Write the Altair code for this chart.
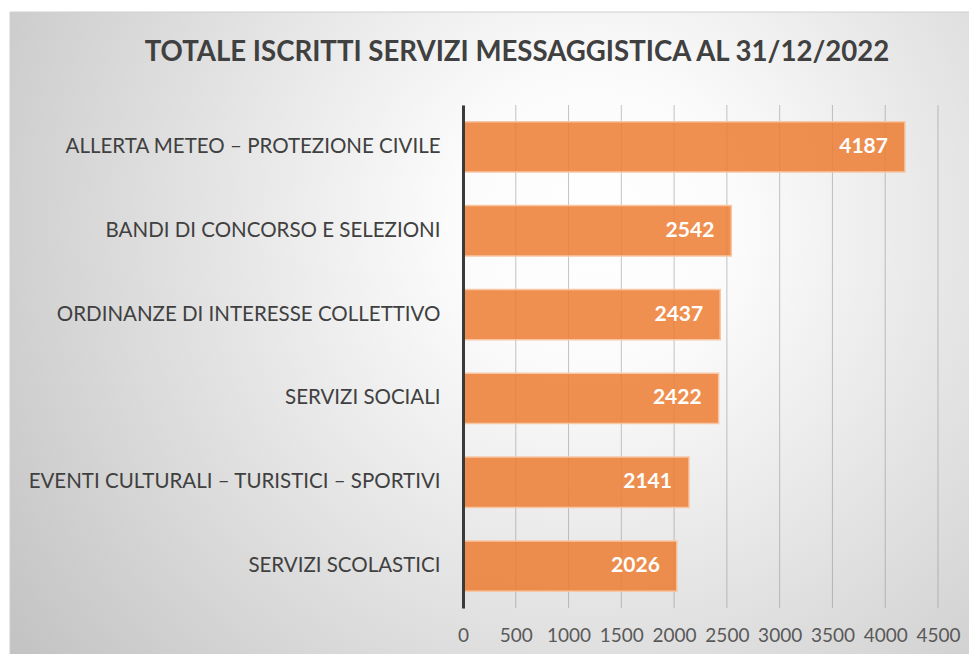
import altair as alt
import pandas as pd

categories = [
    "ALLERTA METEO – PROTEZIONE CIVILE",
    "BANDI DI CONCORSO E SELEZIONI\u00a0",
    "ORDINANZE DI INTERESSE COLLETTIVO",
    "SERVIZI SOCIALI",
    "EVENTI CULTURALI – TURISTICI – SPORTIVI",
    "SERVIZI SCOLASTICI",
]
values = [4187, 2542, 2437, 2422, 2141, 2026]
x_ticks = [0, 500, 1000, 1500, 2000, 2500, 3000, 3500, 4000, 4500]
title_text = ["TOTALE ISCRITTI SERVIZI MESSAGGISTICA AL 31/12/2022"]

FONT = "Lato"

df = pd.DataFrame({"cat": categories, "val": values})
ticks_df = pd.DataFrame({"t": x_ticks})
title_df = pd.DataFrame({"title": title_text})

xscale = alt.Scale(domain=[0, 4500], nice=False, zero=True)
yscale = alt.Scale(domain=categories, paddingInner=0.4, paddingOuter=0.2)

bg = alt.Chart(pd.DataFrame({"a": [0]})).mark_rect(
    clip=False,
    fill={
        "gradient": "radial",
        "x1": 0.6, "y1": 0.38, "r1": 0.0,
        "x2": 0.6, "y2": 0.38, "r2": 0.75,
        "stops": [
            {"offset": 0.0, "color": "#ffffff"},
            {"offset": 0.2, "color": "#fbfbfb"},
            {"offset": 1.0, "color": "#c2c2c2"},
        ],
    },
    stroke="#cfcfcf",
    strokeWidth=1,
).encode(
    x=alt.value(-453), x2=alt.value(520),
    y=alt.value(-93), y2=alt.value(565),
)

grid = alt.Chart(ticks_df).mark_rule(color="#8c8c8c", strokeOpacity=0.5, strokeWidth=1).encode(
    x=alt.X("t:Q", scale=xscale,
            axis=alt.Axis(values=x_ticks, grid=False, domain=False, ticks=False,
                          format="d",
                          labelFontSize=19, labelFont=FONT, labelColor="#595959",
                          labelPadding=18, title=None, zindex=1, labelFlush=False)),
)

bars = alt.Chart(df).mark_bar(
    color="#ED7D31", fillOpacity=0.85, stroke="#F7C6A4", strokeWidth=1.5
).encode(
    x=alt.X("val:Q", scale=xscale),
    y=alt.Y("cat:N", scale=yscale, sort=categories,
            axis=alt.Axis(title=None, ticks=False, domain=True, domainColor="#3a3a3a",
                          domainWidth=3, labelFontSize=20.5, labelFont=FONT,
                          labelColor="#404040", labelPadding=23, labelLimit=600,
                          zindex=1)),
)

labels = alt.Chart(df).mark_text(
    align="right", baseline="middle", dx=-17, color="white",
    fontWeight="bold", fontSize=21, font=FONT
).encode(
    x=alt.X("val:Q", scale=xscale),
    y=alt.Y("cat:N", scale=yscale, sort=categories),
    text=alt.Text("val:Q", format="d"),
)

title = alt.Chart(title_df).mark_text(
    align="center", baseline="middle", fontSize=27.6, fontWeight="bold",
    font=FONT, color="#404040"
).encode(
    x=alt.value(54), y=alt.value(-52), text="title:N"
)

chart = alt.layer(bg, grid, bars, labels, title).properties(
    width=475, height=503,
    autosize=alt.AutoSizeParams(type="none"),
    padding={"left": 455, "top": 97, "right": 31, "bottom": 46},
).configure_view(stroke=None)

chart.save("out.html", embed_options={"renderer": "svg", "actions": False})
